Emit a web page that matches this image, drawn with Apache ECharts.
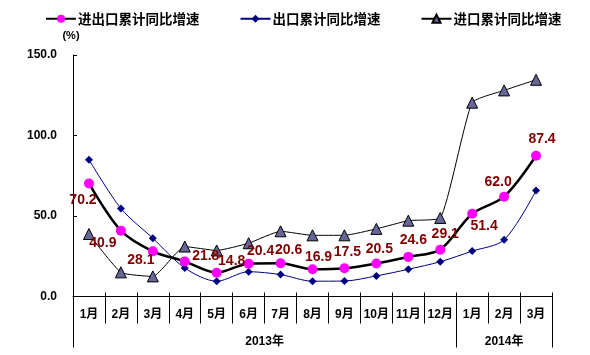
<!DOCTYPE html>
<html>
<head>
<meta charset="utf-8">
<script src="https://cdn.jsdelivr.net/npm/echarts@6/dist/echarts.min.js"></script>
<style>html,body{margin:0;padding:0;background:#fff}#c{width:590px;height:355px}</style>
</head>
<body>
<div id="c"></div>
<script>
var months = ['1月','2月','3月','4月','5月','6月','7月','8月','9月','10月','11月','12月','1月','2月','3月'];
var years = ['2013年','2014年'];
var yTicks = [0, 50, 100, 150];
var totalGrowth = [70.2, 40.9, 28.1, 21.8, 14.8, 20.4, 20.6, 16.9, 17.5, 20.5, 24.6, 29.1, 51.4, 62.0, 87.4];
var exportGrowth = [85.0, 54.7, 36.2, 17.7, 9.5, 15.4, 13.6, 9.5, 9.6, 12.8, 16.9, 21.6, 28.2, 35.2, 65.8];
var importGrowth = [38.8, 15.0, 12.5, 31.0, 28.6, 33.1, 40.5, 38.0, 38.0, 42.0, 47.1, 48.8, 120.4, 128.0, 134.6];
var seriesNames = ['进出口累计同比增速', '出口累计同比增速', '进口累计同比增速'];

// label placement (style, not data): offset of label centre from point
var labelOffsets = [[-6,17],[-18,12],[-12,9],[21,-5],[15,-12],[12,-13],[8,-13],[6,-12],[3,-16],[3,-14],[5,-17],[5,-16],[12,12],[-6,-15],[6,-17]];

var FONT = "'Liberation Sans', 'Noto Sans CJK SC', sans-serif";
var chart = echarts.init(document.getElementById('c'), null, {renderer: 'canvas'});

chart.setOption({
  animation: false,
  backgroundColor: '#fff',
  textStyle: {fontFamily: FONT},
  legend: {
    left: 40, top: 7,
    itemWidth: 30, itemHeight: 10, itemGap: 40,
    textStyle: {fontFamily: "'Noto Sans CJK SC', sans-serif", fontWeight: 'bold', fontSize: 13.5, color: '#000', padding: [0,0,0,-3]},
    data: seriesNames
  },
  grid: {left: 73, right: 38, top: 55, bottom: 58.5, containLabel: false},
  xAxis: [
    {
      type: 'category', data: months, boundaryGap: true,
      axisLine: {lineStyle: {color: '#000', width: 1}},
      axisTick: {show: true, interval: 0, length: 27, lineStyle: {color: '#000'}},
      axisLabel: {interval: 0, margin: 12, color: '#000', fontWeight: 'bold', fontSize: 12, fontFamily: FONT}
    },
    {
      type: 'category', data: months, boundaryGap: true, position: 'bottom',
      axisLine: {show: false},
      axisTick: {show: true, inside: true, interval: 0, length: 4, lineStyle: {color: '#000'}},
      axisLabel: {show: false}
    },
    {
      type: 'value', min: 0, max: 15, position: 'bottom',
      axisLine: {show: false},
      splitLine: {show: false},
      axisTick: {show: true, customValues: [0, 12, 15], length: 51, lineStyle: {color: '#000'}},
      axisLabel: {
        customValues: [6, 13.5], margin: 39, color: '#000', fontWeight: 'bold', fontSize: 12, fontFamily: FONT,
        formatter: function (v) { return v < 12 ? years[0] : years[1]; }
      }
    }
  ],
  yAxis: {
    type: 'value', min: yTicks[0], max: yTicks[yTicks.length - 1], interval: 50,
    name: '(%)', nameLocation: 'end', nameGap: 14,
    nameTextStyle: {color: '#000', fontWeight: 'bold', fontSize: 11, fontFamily: FONT, padding: [0, 0, 0, -4]},
    axisLine: {show: true, lineStyle: {color: '#000', width: 1}},
    axisTick: {show: true, inside: true, length: 4, lineStyle: {color: '#000'}},
    splitLine: {show: false},
    axisLabel: {margin: 16, color: '#000', fontWeight: 'bold', fontSize: 12, fontFamily: FONT,
      formatter: function (v) { return v.toFixed(1); }}
  },
  series: [
    {
      name: seriesNames[0], type: 'line', data: totalGrowth, smooth: 0.3, z: 4,
      symbol: 'circle', symbolSize: 10,
      itemStyle: {color: '#FF00FF'},
      lineStyle: {color: '#000', width: 2.5},
      label: {show: true, position: 'inside', color: '#800000', fontWeight: 'bold', fontSize: 14, fontFamily: FONT,
        formatter: function (p) { return p.value.toFixed(1); }},
      labelLayout: function (params) {
        var o = labelOffsets[params.dataIndex] || [0, 0];
        return {dx: o[0], dy: o[1], hideOverlap: false};
      },
      emphasis: {disabled: true}
    },
    {
      name: seriesNames[1], type: 'line', data: exportGrowth, smooth: 0.3, z: 3,
      symbol: 'diamond', symbolSize: 8,
      itemStyle: {color: '#000080'},
      lineStyle: {color: '#000080', width: 1},
      emphasis: {disabled: true}
    },
    {
      name: seriesNames[2], type: 'line', data: importGrowth, smooth: 0.15, z: 2,
      symbol: 'triangle', symbolSize: 11,
      itemStyle: {color: '#666699', borderColor: '#000', borderWidth: 1},
      lineStyle: {color: '#000', width: 1},
      emphasis: {disabled: true}
    }
  ]
});
</script>
</body>
</html>
